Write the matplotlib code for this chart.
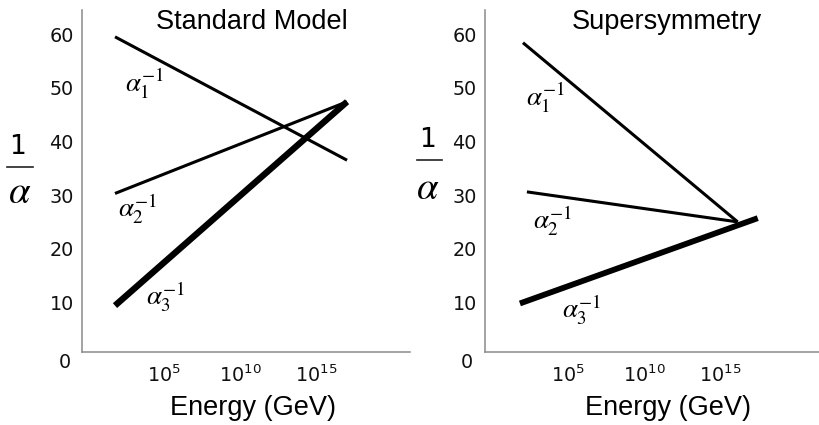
import matplotlib
matplotlib.use("Agg")
import matplotlib.pyplot as plt
from matplotlib.lines import Line2D

# ---- data (x in log10(E/GeV), y = 1/alpha) ----
panel_titles = ["Standard Model", "Supersymmetry"]
xtick_exps = [5, 10, 15]
ytick_vals = [10, 20, 30, 40, 50, 60]

sm_a1_x = [1.78, 17.04]; sm_a1_y = [59.5, 36.5]
sm_a2_x = [1.78, 17.04]; sm_a2_y = [30.3, 47.4]
sm_a3_x = [1.78, 17.04]; sm_a3_y = [9.4, 47.4]

susy_a1_x = [2.04, 16.18]; susy_a1_y = [58.4, 25.0]
susy_a2_x = [2.30, 16.18]; susy_a2_y = [30.6, 25.0]
susy_a3_x = [1.84, 17.50]; susy_a3_y = [9.8, 25.7]

label_texts = [r"$\alpha_1^{-1}$", r"$\alpha_2^{-1}$", r"$\alpha_3^{-1}$"]
sm_label_pos = [(3.75, 50.8), (3.26, 27.5), (5.13, 11.1)]
susy_label_pos = [(3.55, 48.2), (4.0, 25.3), (5.9, 8.7)]

fig = plt.figure(figsize=(8.2, 4.25), dpi=100)

axL = fig.add_axes([82/820, 1-352/425, 328/820, 342/425])
axR = fig.add_axes([485/820, 1-352/425, 335/820, 342/425])

TICK_FS = 13.8

def style(ax, xlim):
    ax.set_xlim(*xlim)
    ax.set_ylim(0.75, 64.5)
    for s in ['top', 'right']:
        ax.spines[s].set_visible(False)
    for s in ['left', 'bottom']:
        ax.spines[s].set_color('#8a8a8a')
        ax.spines[s].set_linewidth(1.1)
    ax.set_xticks(xtick_exps)
    ax.set_xticklabels([r"$\mathregular{10^{%d}}$" % e for e in xtick_exps], fontsize=TICK_FS,
                       family='DejaVu Sans')
    ax.set_yticks(ytick_vals)
    ax.set_yticklabels([str(v) for v in ytick_vals], fontsize=TICK_FS, family='DejaVu Sans')
    ax.tick_params(axis='y', length=0, pad=6, colors='#111111')
    ax.tick_params(axis='x', length=0, pad=9, colors='#111111')
    ax.text(-0.035, -1.2, "0", transform=ax.get_yaxis_transform(), ha='right', va='center',
            fontsize=TICK_FS, family='DejaVu Sans', color='#111111')

style(axL, (-0.39, 21.18))
style(axR, (-0.46, 21.6))

lw_thin = 2.2
axL.plot(sm_a1_x, sm_a1_y, color='black', lw=lw_thin, solid_capstyle='butt')
axL.plot(sm_a2_x, sm_a2_y, color='black', lw=lw_thin, solid_capstyle='butt')
axL.plot(sm_a3_x, sm_a3_y, color='black', lw=4.6, solid_capstyle='butt')
axR.plot(susy_a1_x, susy_a1_y, color='black', lw=lw_thin, solid_capstyle='butt')
axR.plot(susy_a2_x, susy_a2_y, color='black', lw=lw_thin, solid_capstyle='butt')
axR.plot(susy_a3_x, susy_a3_y, color='black', lw=4.2, solid_capstyle='butt')

for ax, poss in [(axL, sm_label_pos), (axR, susy_label_pos)]:
    for t, (x, y) in zip(label_texts, poss):
        ax.text(x, y, t, ha='center', va='center', fontsize=19.5, math_fontfamily='stix')

# titles and x labels
TFS = 19.5
fig.text(252/820, 1-22/425, panel_titles[0], ha='center', va='center', fontsize=TFS,
         family='Liberation Sans')
fig.text(667/820, 1-22/425, panel_titles[1], ha='center', va='center', fontsize=TFS,
         family='Liberation Sans')
fig.text(253/820, 1-408/425, "Energy (GeV)", ha='center', va='center', fontsize=TFS,
         family='Liberation Sans')
fig.text(668/820, 1-408/425, "Energy (GeV)", ha='center', va='center', fontsize=TFS,
         family='Liberation Sans')

# y labels 1/alpha
for (xc1, y1, xb0, xb1, yb, xa, ya) in [(17, 147, 7, 33, 167, 20, 192),
                                        (427.5, 140, 417, 442, 160, 428, 188)]:
    fig.text(xc1/820, 1-y1/425, "1", ha='center', va='center', fontsize=19,
             family='DejaVu Sans')
    fig.add_artist(Line2D([xb0/820, xb1/820], [1-yb/425, 1-yb/425], color='#222222',
                          lw=1.2, transform=fig.transFigure))
    fig.text(xa/820, 1-ya/425, r"$\alpha$", ha='center', va='center', fontsize=28,
             math_fontfamily='stix')

fig.savefig("out.png", dpi=100)
